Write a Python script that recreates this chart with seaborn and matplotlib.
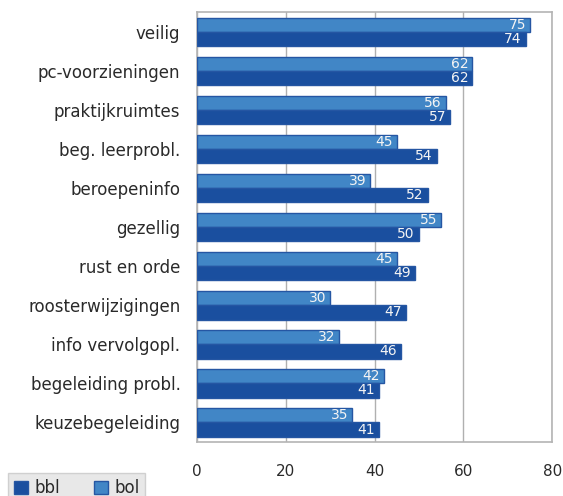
import matplotlib
matplotlib.use("Agg")
import matplotlib.pyplot as plt
import seaborn as sns
import pandas as pd
from matplotlib.patches import Patch

categories = ["veilig", "pc-voorzieningen", "praktijkruimtes", "beg. leerprobl.",
              "beroepeninfo", "gezellig", "rust en orde", "roosterwijzigingen",
              "info vervolgopl.", "begeleiding probl.", "keuzebegeleiding"]
bol = [75, 62, 56, 45, 39, 55, 45, 30, 32, 42, 35]
bbl = [74, 62, 57, 54, 52, 50, 49, 47, 46, 41, 41]
series_names = ["bol", "bbl"]
xticks = [0, 20, 40, 60, 80]

df = pd.DataFrame({
    "cat": categories * 2,
    "val": bol + bbl,
    "serie": ["bol"] * len(categories) + ["bbl"] * len(categories),
})

sns.set_style("white")
plt.rcParams['font.family'] = ['DejaVu Sans']

colors = {"bol": "#4186c6", "bbl": "#1a4f9f"}
edge = "#2556a3"

fig = plt.figure(figsize=(5.63, 4.96), dpi=100)
ax = fig.add_axes([0.350, 0.109, 0.631, 0.866])

sns.barplot(data=df, y="cat", x="val", hue="serie", hue_order=series_names,
            order=categories, palette=colors, saturation=1, orient="h", width=0.73,
            edgecolor=edge, linewidth=1.0, ax=ax, legend=False, zorder=3)

for cont in ax.containers:
    texts = ax.bar_label(cont, padding=-3, color="#f4f4f4", fontsize=10, label_type="edge",
                         labels=[f"{int(b.get_width())}" for b in cont], zorder=4)
    for t in texts:
        t.set_ha("right")

ax.set_xlim(0, 80)
ax.set_xticks(xticks)
ax.set_xticklabels([str(v) for v in xticks], fontsize=11, color="#2a2a2a")
ax.set_ylabel("")
ax.set_xlabel("")
ax.tick_params(axis="y", length=0, labelsize=12, labelcolor="#2a2a2a", pad=12)
ax.tick_params(axis="x", length=7, color="#b0b0b0", width=1, pad=9, direction="out")
ax.grid(axis="x", color="#b0b0b0", linewidth=1, zorder=0)
for s in ax.spines.values():
    s.set_color("#b4b4b4")
    s.set_linewidth(1.2)

handles = [Patch(facecolor=colors["bbl"], edgecolor=edge, label="bbl"),
           Patch(facecolor=colors["bol"], edgecolor=edge, label="bol")]
leg = fig.legend(handles=handles, loc="lower left", bbox_to_anchor=(0.014, -0.014),
                 ncol=2, frameon=True, fontsize=12, handlelength=0.85, handleheight=0.85,
                 handletextpad=0.4, columnspacing=2.0, borderpad=0.35, borderaxespad=0,
                 fancybox=False)
leg.get_frame().set_facecolor("#e3e3e3")
leg.get_frame().set_edgecolor("#c8c8c8")
for t in leg.get_texts():
    t.set_color("#2a2a2a")

fig.savefig("out.png", dpi=100)
